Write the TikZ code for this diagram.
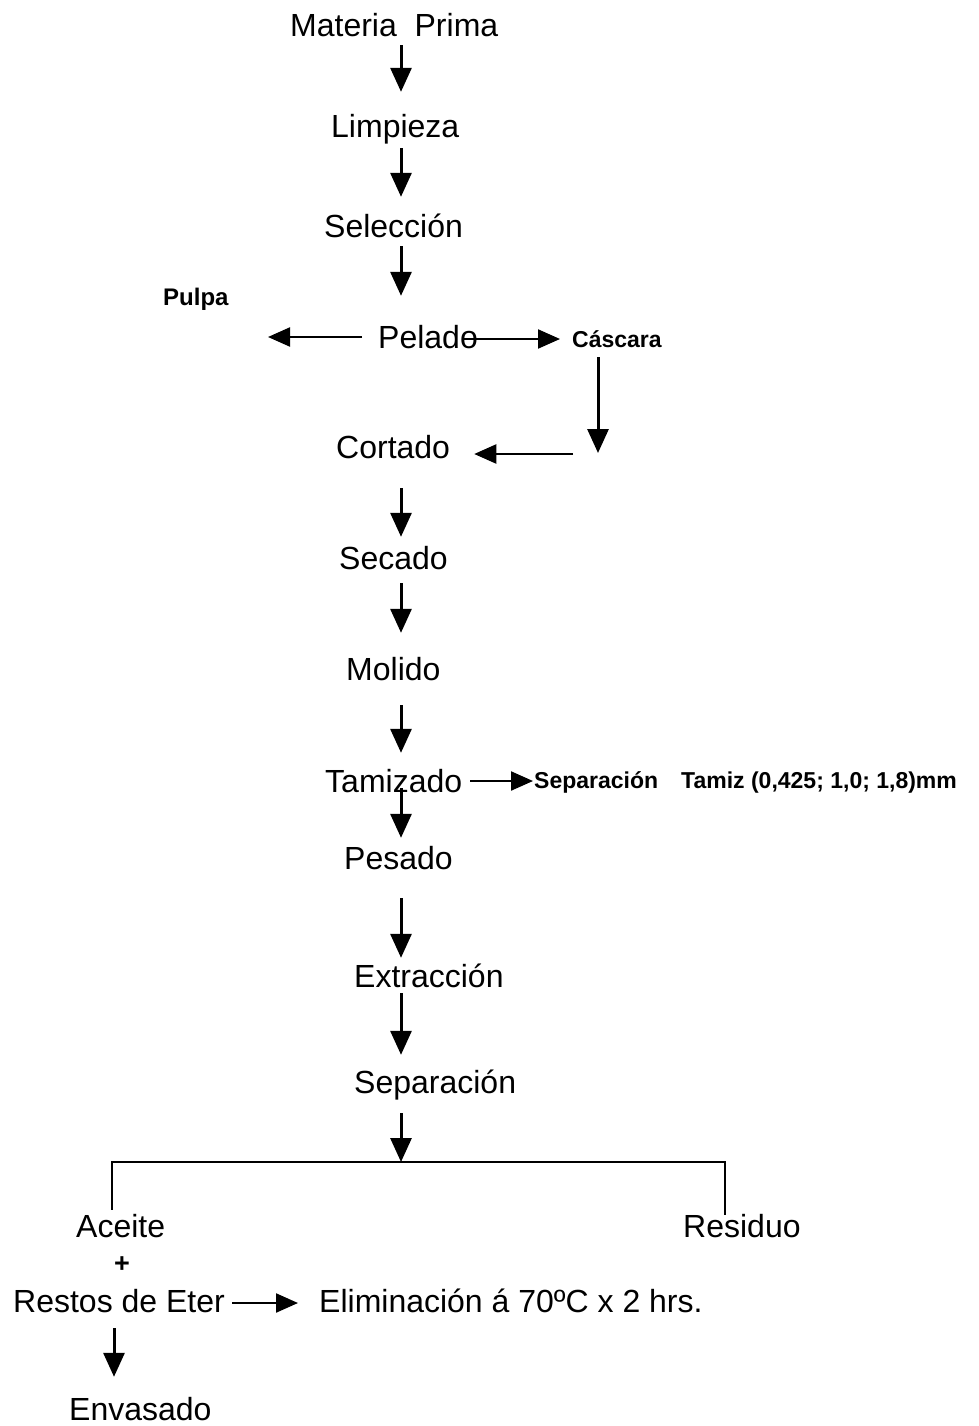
\documentclass[tikz,border=0pt]{standalone}
\usepackage{fontspec}
\setmainfont{Liberation Sans}
\usetikzlibrary{arrows.meta,calc}
\begin{document}
\begin{tikzpicture}[x=1pt,y=-1pt,
  txt/.style={inner sep=0pt,text height=24pt,text depth=7pt,font=\fontsize{32}{38}\selectfont,anchor=base west},
  sml/.style={inner sep=0pt,text height=17pt,text depth=5pt,font=\fontsize{23}{28}\selectfont\bfseries,anchor=base west},
  arr/.style={line width=3pt,-{Triangle[width=21pt,length=24pt]}},
  harr/.style={line width=2.2pt,-{Triangle[width=19pt,length=22pt]}},
  ln/.style={line width=2.6pt,line join=miter}]
\useasboundingbox[fill=white] (0,0) rectangle (978,1426);
\coordinate (ax) at (401,0);
\coordinate (cx) at (598,0);
\coordinate (ex) at (114,0);
\coordinate (lx) at (112,0);
\coordinate (rx) at (725,0);
% nodes
\node[txt] (mp)  at (290,37)   {Materia\ \ Prima};
\node[txt] (lim) at (331,138)  {Limpieza};
\node[txt] (sel) at (324,237)  {Selección};
\node[sml,font=\fontsize{24}{28}\selectfont\bfseries] (pul) at (163,305) {Pulpa};
\node[txt] (pel) at (378,348)  {Pelado};
\node[sml] (cas) at (572,347)  {Cáscara};
\node[txt] (cor) at (336,458)  {Cortado};
\node[txt] (sec) at (339,569)  {Secado};
\node[txt] (mol) at (346,680)  {Molido};
\node[txt] (tam) at (325,792)  {Tamizado};
\node[sml] (sep2) at (534,788) {Separación};
\node[sml] (tmz) at (681,788)  {Tamiz (0,425; 1,0; 1,8)mm};
\node[txt] (pes) at (344,869)  {Pesado};
\node[txt] (ext) at (354,987)  {Extracción};
\node[txt] (sep) at (354,1093) {Separación};
\node[txt] (ace) at (76,1237)  {Aceite};
\node[txt] (res) at (683,1237) {Residuo};
\node[inner sep=0pt,font=\fontsize{27}{30}\selectfont\bfseries] (plus) at (122,1265) {+};
\node[txt] (rde) at (13,1312)  {Restos de Eter};
\node[txt] (eli) at (319,1312) {Eliminación á 70ºC x 2 hrs.};
\node[txt] (env) at (69,1420)  {Envasado};
% free ends
\coordinate (pu) at (268,337);
\coordinate (cd) at (598,453);
\coordinate (cr) at (573,454);
\coordinate (split) at (401,1162);
% connectors
\draw[arr] ($(mp.south -| ax)+(0,1)$) -- ($(lim.north -| ax)+(0,-22)$);
\draw[arr] ($(lim.south -| ax)+(0,3)$) -- ($(sel.north -| ax)+(0,-16)$);
\draw[arr] ($(sel.south -| ax)+(0,2)$) -- ($(pel.north -| ax)+(0,-28)$);
\draw[harr] ($(pel.base west)+(-16,-11)$) -- (pu);
\draw[harr] ($(pel.base east)+(-16,-9)$) -- ($(cas.base west)+(-12,-8)$);
\draw[arr] ($(cas.south -| cx)+(0,5)$) -- (cd);
\draw[harr] (cr) -- ($(cor.base east)+(24,-4)$);
\draw[arr] ($(cor.south -| ax)+(0,23)$) -- ($(sec.north -| ax)+(0,-8)$);
\draw[arr] ($(sec.south -| ax)+(0,7)$) -- ($(mol.north -| ax)+(0,-23)$);
\draw[arr] ($(mol.south -| ax)+(0,18)$) -- ($(tam.north -| ax)+(0,-15)$);
\draw[harr] ($(tam.base east)+(8,-11)$) -- ($(sep2.base west)+(-1,-7)$);
\draw[arr] ($(tam.base -| ax)+(0,-4)$) -- ($(pes.north -| ax)+(0,-7)$);
\draw[arr] ($(pes.south -| ax)+(0,22)$) -- ($(ext.north -| ax)+(0,-5)$);
\draw[arr] ($(ext.south -| ax)+(0,-1)$) -- ($(sep.north -| ax)+(0,-14)$);
\draw[arr] ($(sep.south -| ax)+(0,13)$) -- (split);
\draw[ln] ($(ace.north -| lx)+(0,-3)$) |- (split) -| ($(res.north -| rx)+(0,2)$);
\draw[harr] ($(rde.base east)+(7,-9)$) -- ($(eli.base west)+(-21,-9)$);
\draw[arr] ($(rde.south -| ex)+(0,9)$) -- ($(env.north -| ex)+(0,-19)$);
\end{tikzpicture}
\end{document}
